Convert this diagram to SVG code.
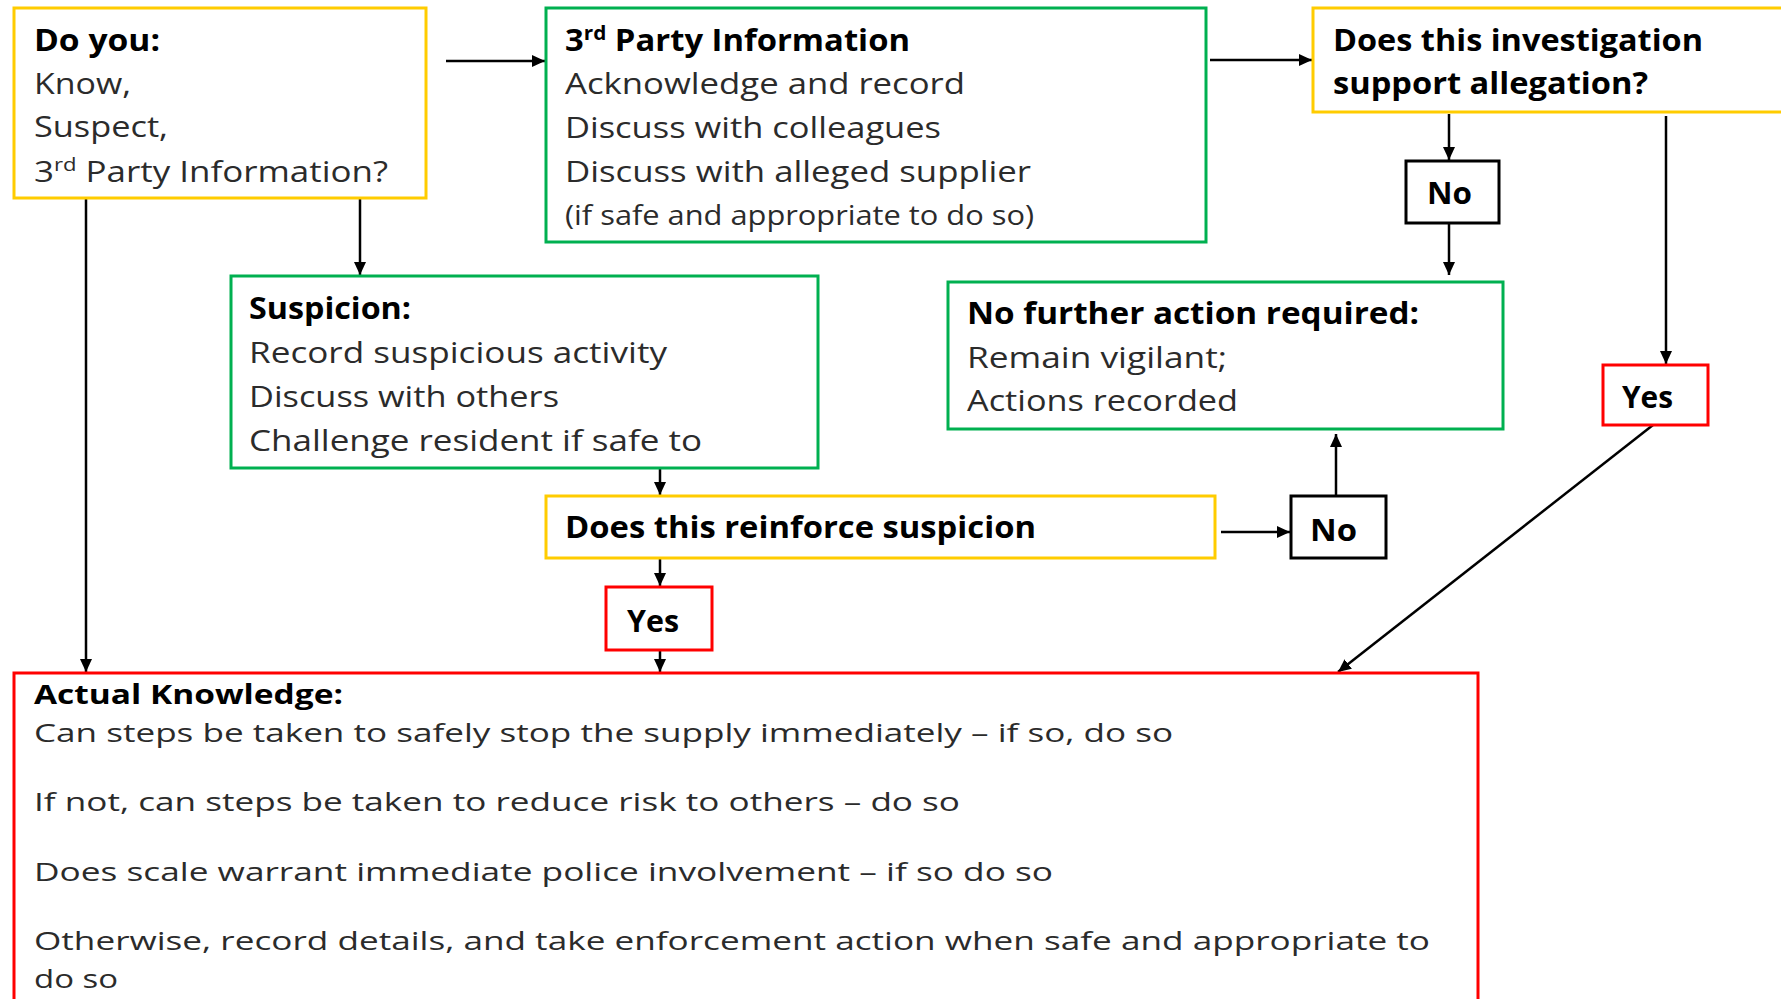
<svg xmlns="http://www.w3.org/2000/svg" width="1781" height="999" viewBox="0 0 1781 999">
<style>
text{font-family:"Open Sans","Liberation Sans",sans-serif;font-size:30px;fill:#2b2b2b}
.b{font-weight:bold;fill:#000}
.sup{font-size:19px}
.ak{font-size:26px}
.box{fill:#fff;stroke-width:3}
.y{stroke:#FFCC00}
.g{stroke:#00B050}
.r{stroke:#FF0000}
.k{stroke:#000}
.c{fill:none;stroke:#000;stroke-width:2.5}
</style>
<defs>
<marker id="ah" markerUnits="userSpaceOnUse" markerWidth="14" markerHeight="12" refX="13" refY="6" orient="auto">
<path d="M0,0 L13,6 L0,12 Z" fill="#000"/>
</marker>
</defs>
<rect width="1781" height="999" fill="#fff"/>
<g id="connectors">
<path class="c" d="M446,61 H545" marker-end="url(#ah)"/>
<path class="c" d="M1210,60 H1312" marker-end="url(#ah)"/>
<path class="c" d="M1449,114 V160" marker-end="url(#ah)"/>
<path class="c" d="M1449,223 V275" marker-end="url(#ah)"/>
<path class="c" d="M1666,116 V364" marker-end="url(#ah)"/>
<path class="c" d="M1653,425 L1338,672" marker-end="url(#ah)"/>
<path class="c" d="M360,199 V275" marker-end="url(#ah)"/>
<path class="c" d="M86,199 V672" marker-end="url(#ah)"/>
<path class="c" d="M660,468 V495" marker-end="url(#ah)"/>
<path class="c" d="M1221,532 H1290" marker-end="url(#ah)"/>
<path class="c" d="M1336,496 V434" marker-end="url(#ah)"/>
<path class="c" d="M660,558 V586" marker-end="url(#ah)"/>
<path class="c" d="M660,650 V672" marker-end="url(#ah)"/>
</g>
<g id="node-doyou">
<rect class="box y" x="14" y="8" width="412" height="190"/>
<text class="b" x="34" y="51" textLength="126" lengthAdjust="spacingAndGlyphs">Do you:</text>
<text x="34" y="94" textLength="97" lengthAdjust="spacingAndGlyphs">Know,</text>
<text x="34" y="137" textLength="134" lengthAdjust="spacingAndGlyphs">Suspect,</text>
<text x="34" y="182" textLength="354" lengthAdjust="spacingAndGlyphs">3<tspan class="sup" dy="-11">rd</tspan><tspan dy="11"> Party Information?</tspan></text>
</g>
<g id="node-thirdparty">
<rect class="box g" x="546" y="8" width="660" height="234"/>
<text class="b" x="565" y="51" textLength="345" lengthAdjust="spacingAndGlyphs">3<tspan class="sup" dy="-11">rd</tspan><tspan dy="11"> Party Information</tspan></text>
<text x="565" y="94" textLength="400" lengthAdjust="spacingAndGlyphs">Acknowledge and record</text>
<text x="565" y="138" textLength="376" lengthAdjust="spacingAndGlyphs">Discuss with colleagues</text>
<text x="565" y="182" textLength="466" lengthAdjust="spacingAndGlyphs">Discuss with alleged supplier</text>
<text x="565" y="225" style="font-size:27px" textLength="469" lengthAdjust="spacingAndGlyphs">(if safe and appropriate to do so)</text>
</g>
<g id="node-investigation">
<rect class="box y" x="1313" y="8" width="480" height="104"/>
<text class="b" x="1333" y="51" textLength="370" lengthAdjust="spacingAndGlyphs">Does this investigation</text>
<text class="b" x="1333" y="94" textLength="315" lengthAdjust="spacingAndGlyphs">support allegation?</text>
</g>
<g id="node-no1">
<rect class="box k" x="1406" y="161" width="93" height="62"/>
<text class="b" x="1427" y="204" textLength="45" lengthAdjust="spacingAndGlyphs">No</text>
</g>
<g id="node-nofurther">
<rect class="box g" x="948" y="282" width="555" height="147"/>
<text class="b" x="967" y="324" textLength="452" lengthAdjust="spacingAndGlyphs">No further action required:</text>
<text x="967" y="368" textLength="260" lengthAdjust="spacingAndGlyphs">Remain vigilant;</text>
<text x="967" y="411" textLength="271" lengthAdjust="spacingAndGlyphs">Actions recorded</text>
</g>
<g id="node-yes2">
<rect class="box r" x="1603" y="365" width="105" height="60"/>
<text class="b" x="1622" y="408" textLength="51" lengthAdjust="spacingAndGlyphs">Yes</text>
</g>
<g id="node-suspicion">
<rect class="box g" x="231" y="276" width="587" height="192"/>
<text class="b" x="249" y="319" textLength="162" lengthAdjust="spacingAndGlyphs">Suspicion:</text>
<text x="249" y="363" textLength="418" lengthAdjust="spacingAndGlyphs">Record suspicious activity</text>
<text x="249" y="407" textLength="310" lengthAdjust="spacingAndGlyphs">Discuss with others</text>
<text x="249" y="451" textLength="453" lengthAdjust="spacingAndGlyphs">Challenge resident if safe to</text>
</g>
<g id="node-reinforce">
<rect class="box y" x="546" y="496" width="669" height="62"/>
<text class="b" x="565" y="538" textLength="471" lengthAdjust="spacingAndGlyphs">Does this reinforce suspicion</text>
</g>
<g id="node-no2">
<rect class="box k" x="1291" y="496" width="95" height="62"/>
<text class="b" x="1310" y="541" textLength="47" lengthAdjust="spacingAndGlyphs">No</text>
</g>
<g id="node-yes1">
<rect class="box r" x="606" y="587" width="106" height="63"/>
<text class="b" x="627" y="632" textLength="52" lengthAdjust="spacingAndGlyphs">Yes</text>
</g>
<g id="node-actual">
<rect class="box r" x="14" y="673" width="1464" height="340"/>
<text class="b ak" x="34" y="704" textLength="309" lengthAdjust="spacingAndGlyphs">Actual Knowledge:</text>
<text class="ak" x="34" y="742" textLength="1139" lengthAdjust="spacingAndGlyphs">Can steps be taken to safely stop the supply immediately – if so, do so</text>
<text class="ak" x="34" y="811" textLength="926" lengthAdjust="spacingAndGlyphs">If not, can steps be taken to reduce risk to others – do so</text>
<text class="ak" x="34" y="881" textLength="1019" lengthAdjust="spacingAndGlyphs">Does scale warrant immediate police involvement – if so do so</text>
<text class="ak" x="34" y="950" textLength="1396" lengthAdjust="spacingAndGlyphs">Otherwise, record details, and take enforcement action when safe and appropriate to</text>
<text class="ak" x="34" y="988" textLength="84" lengthAdjust="spacingAndGlyphs">do so</text>
</g>
</svg>
